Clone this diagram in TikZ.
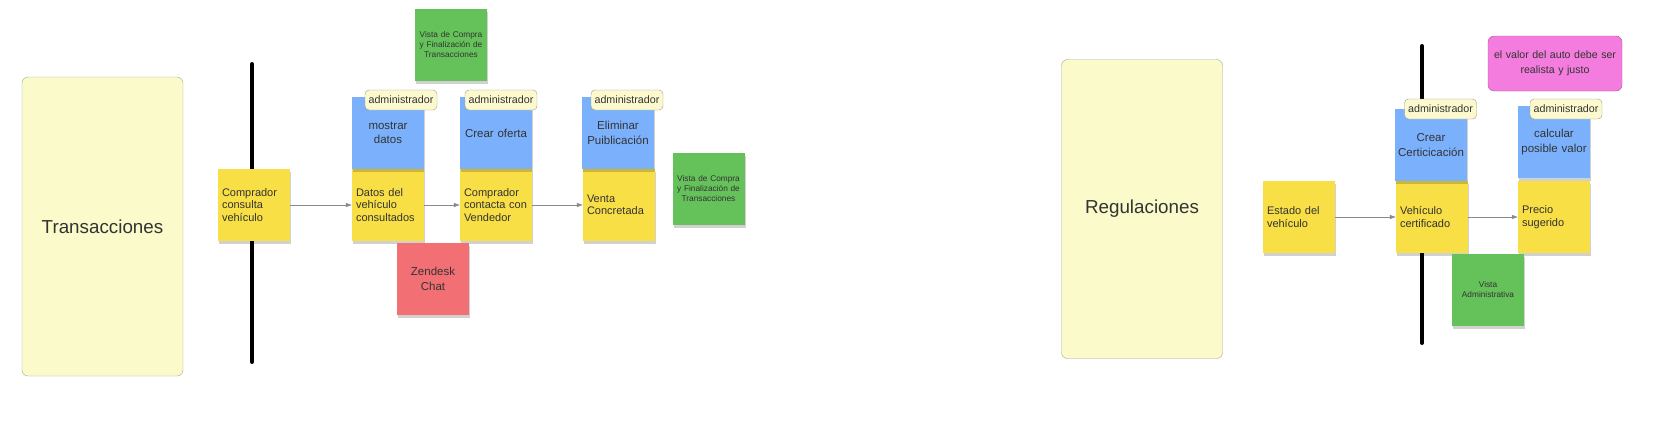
\documentclass[tikz,border=0pt]{standalone}
\usepackage{fontspec}
\setmainfont{Liberation Sans}
\usetikzlibrary{arrows.meta,shadows}
\definecolor{stky}{HTML}{F8DF45}
\definecolor{stkb}{HTML}{7BB1FC}
\definecolor{stkg}{HTML}{65C25A}
\definecolor{stkr}{HTML}{F27074}
\definecolor{stkp}{HTML}{F47CDE}
\definecolor{hdfill}{HTML}{FAFACB}
\definecolor{hdline}{HTML}{A8A893}
\definecolor{tgfill}{HTML}{FCF9CF}
\definecolor{tgline}{HTML}{9C9B84}
\definecolor{txt}{HTML}{333333}
\definecolor{flow}{HTML}{8A8A8A}
\begin{document}
\begin{tikzpicture}[x=1pt,y=-1pt,
  note/.style={inner sep=0pt,minimum width=72pt,minimum height=72pt,text=txt,
    drop shadow={shadow xshift=1pt,shadow yshift=-3pt,opacity=0.18,fill=black}},
  ynote/.style={note,text width=64pt,fill=stky,align=left,font=\fontsize{11}{12.5}\selectfont},
  bnote/.style={note,text width=70pt,fill=stkb,align=center,font=\fontsize{11.5}{14.5}\selectfont},
  gnote/.style={note,text width=70pt,fill=stkg,align=center,font=\fontsize{8.3}{10}\selectfont},
  rnote/.style={note,text width=70pt,fill=stkr,align=center,font=\fontsize{11.5}{15}\selectfont},
  tag/.style={inner sep=0pt,minimum width=72pt,minimum height=20pt,rounded corners=4pt,
    draw=tgline,fill=tgfill,text=txt,font=\fontsize{10.7}{12}\selectfont},
  hd/.style={inner sep=0pt,minimum width=161pt,minimum height=299pt,rounded corners=6pt,
    draw=hdline,fill=hdfill,text=txt,font=\fontsize{18.8}{22}\selectfont},
  bar/.style={line width=4pt,line cap=round},
  flw/.style={draw=flow,line width=0.8pt,-{Triangle[length=6pt,width=4pt]}}]
\useasboundingbox (0,0) rectangle (1662,437);
\node[hd] (hdt) at (102.5,226.5) {Transacciones};
\node[hd] (hdr) at (1142,209) {Regulaciones};
\coordinate (lt0) at (252,64);
\coordinate (lt1) at (252,362);
\coordinate (lr0) at (1422,46);
\coordinate (lr1) at (1422,343);
\draw[bar] (lt0) to (lt1);
\draw[bar] (lr0) to (lr1);
\node[ynote] (yt1) at (254,205) {Comprador\\consulta\\vehículo};
\node[ynote] (yt2) at (388,205) {Datos del\\vehículo\\consultados};
\node[ynote] (yt3) at (496,205) {Comprador\\contacta con\\Vendedor};
\node[ynote] (yt4) at (619,205) {Venta\\Concretada};
\node[bnote] (bt1) at (388,133) {mostrar\\datos};
\node[bnote] (bt2) at (496,133) {Crear oferta};
\node[bnote] (bt3) at (618,133) {Eliminar\\Puiblicación};
\node[tag] (at1) at (401,100) {administrador};
\node[tag] (at2) at (501,100) {administrador};
\node[tag] (at3) at (627,100) {administrador};
\node[gnote] (gt1) at (451,45) {Vista de Compra\\y Finalización de\\Transacciones};
\node[gnote] (gt2) at (708.5,189) {Vista de Compra\\y Finalización de\\Transacciones};
\node[rnote] (rt1) at (433,279) {Zendesk\\Chat};
\node[ynote] (yr1) at (1299,217) {Estado del\\vehículo};
\node[ynote] (yr2) at (1432,217) {Vehículo\\certificado};
\node[ynote] (yr3) at (1554,217) {Precio\\sugerido};
\node[bnote] (br1) at (1431,145) {Crear\\Certicicación};
\node[bnote] (br2) at (1554,142) {calcular\\posible valor};
\node[tag] (ar1) at (1440.5,109) {administrador};
\node[tag] (ar2) at (1566,109) {administrador};
\node[gnote] (gr1) at (1488,290) {Vista\\Administrativa};
\node[inner sep=0pt,minimum width=134pt,minimum height=55pt,text width=130pt,align=center,
  rounded corners=6pt,draw=stkp!70!black,fill=stkp,text=txt,
  font=\fontsize{10.6}{14.7}\selectfont] (pr1) at (1555,63.5) {el valor del auto debe ser\\realista y justo};
\draw[flw] (yt1) to (yt2);
\draw[flw] (yt2) to (yt3);
\draw[flw] (yt3) to (yt4);
\draw[flw] (yr1) to (yr2);
\draw[flw] (yr2) to (yr3);
\end{tikzpicture}
\end{document}
